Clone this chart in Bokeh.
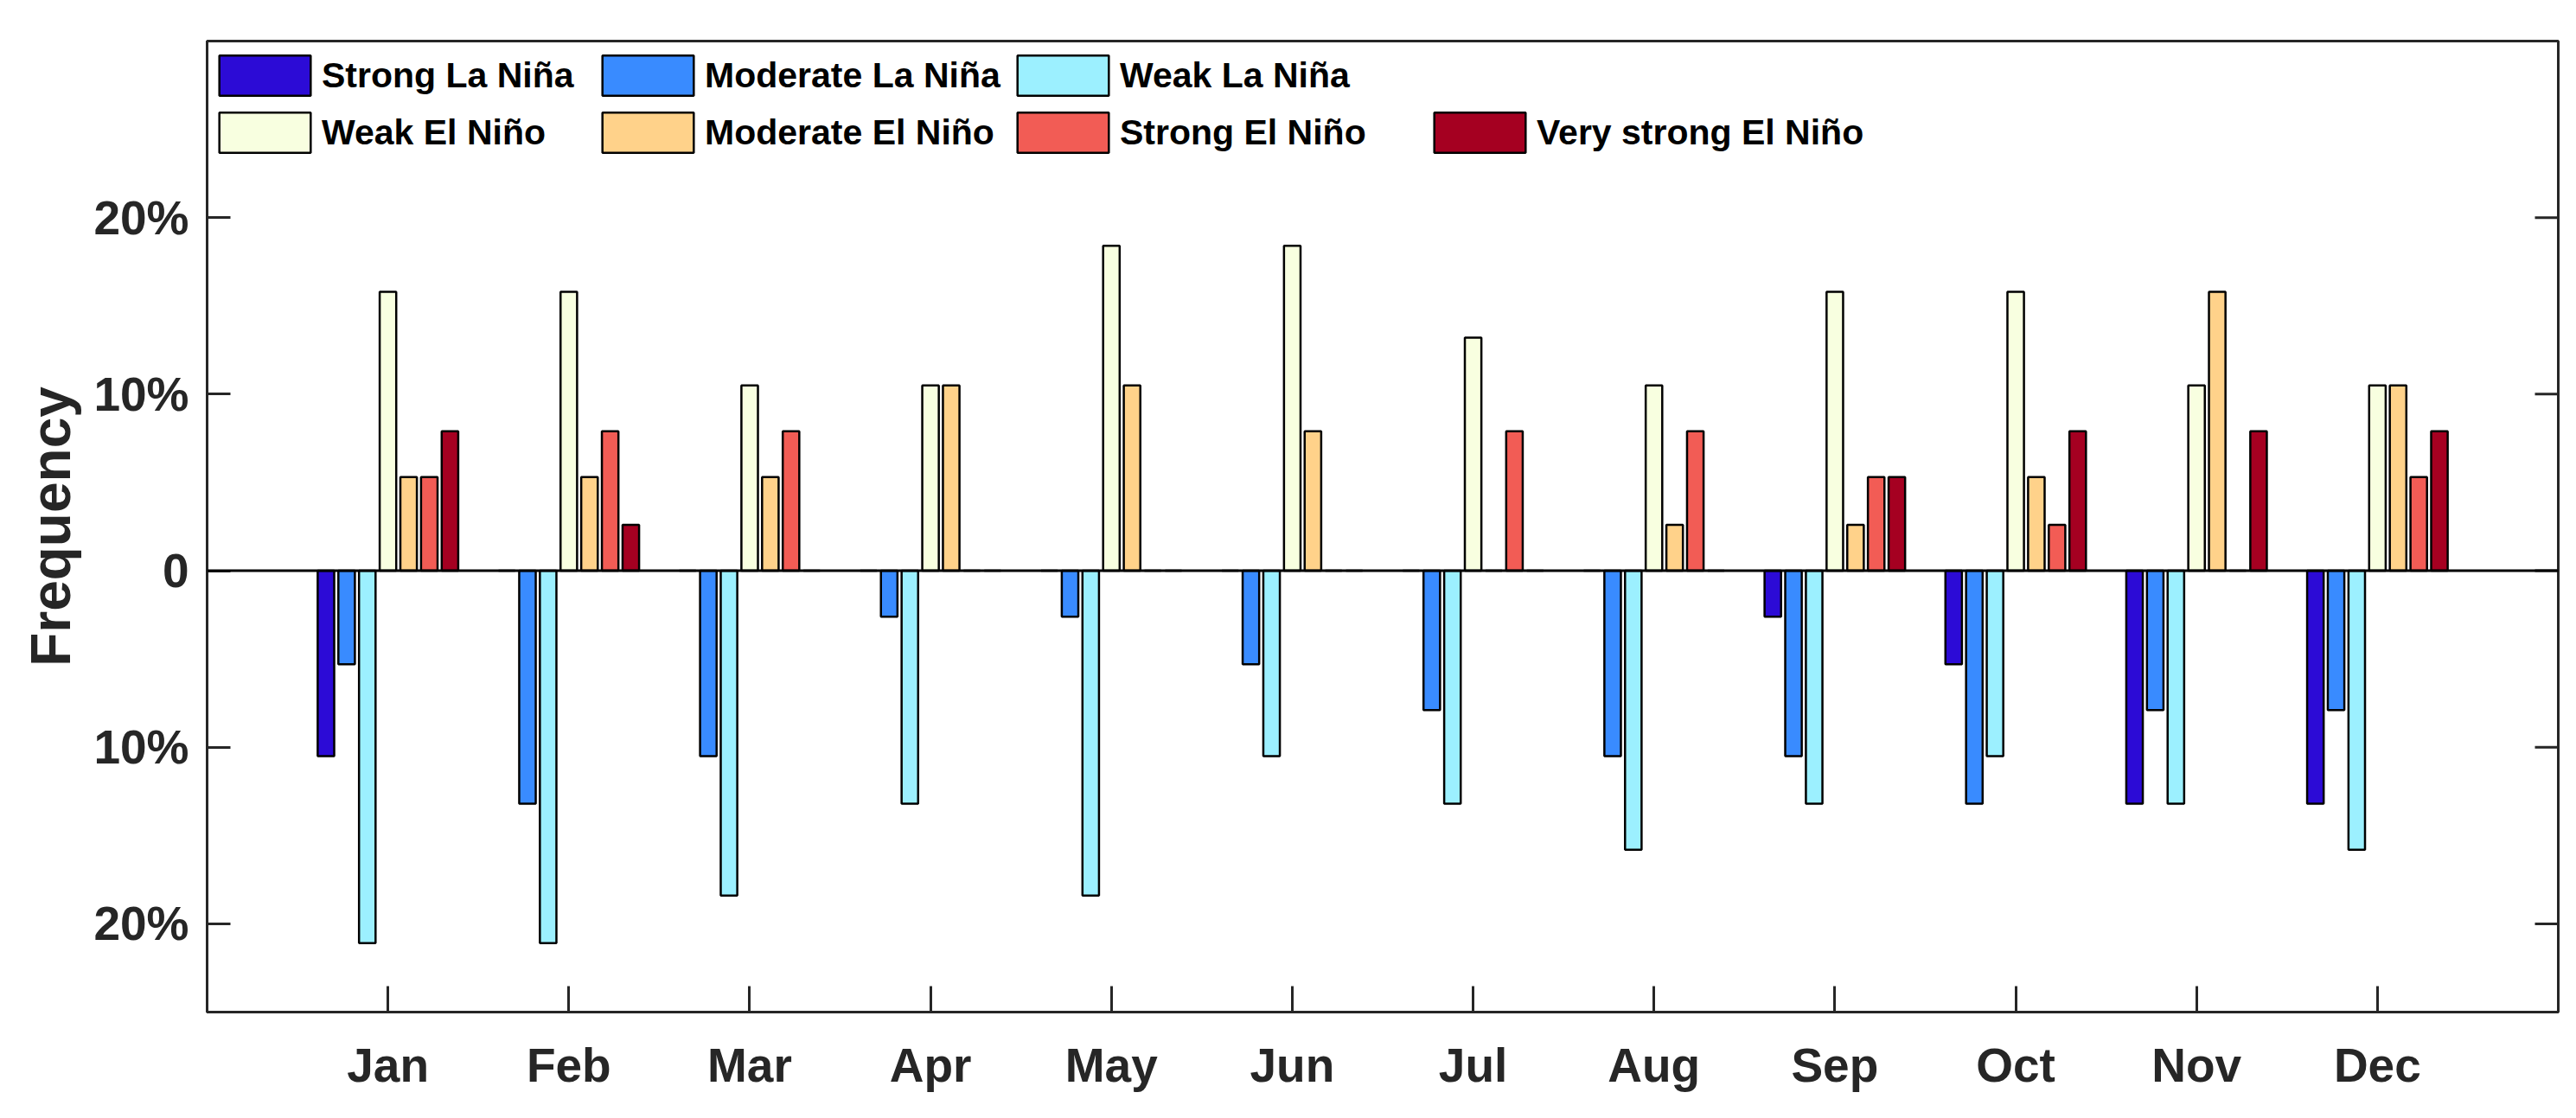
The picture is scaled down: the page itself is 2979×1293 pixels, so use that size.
from math import pi

from bokeh.plotting import figure
from bokeh.models import (ColumnDataSource, FixedTicker, Span,
                          Legend, LegendItem, Range1d)
from bokeh.embed import file_html
from bokeh.resources import INLINE

# Monthly frequency of ENSO event categories (La Niña drawn below zero)
months = ["Jan", "Feb", "Mar", "Apr", "May", "Jun",
          "Jul", "Aug", "Sep", "Oct", "Nov", "Dec"]

categories = ["Strong La Niña", "Moderate La Niña", "Weak La Niña",
              "Weak El Niño", "Moderate El Niño", "Strong El Niño",
              "Very strong El Niño"]

strong_la_nina = [-10.5, 0, 0, 0, 0, 0, 0, 0, -2.6, -5.3, -13.2, -13.2]
moderate_la_nina = [-5.3, -13.2, -10.5, -2.6, -2.6, -5.3, -7.9, -10.5, -10.5, -13.2, -7.9, -7.9]
weak_la_nina = [-21.1, -21.1, -18.4, -13.2, -18.4, -10.5, -13.2, -15.8, -13.2, -10.5, -13.2, -15.8]
weak_el_nino = [15.8, 15.8, 10.5, 10.5, 18.4, 18.4, 13.2, 10.5, 15.8, 15.8, 10.5, 10.5]
moderate_el_nino = [5.3, 5.3, 5.3, 10.5, 10.5, 7.9, 0, 2.6, 2.6, 5.3, 15.8, 10.5]
strong_el_nino = [5.3, 7.9, 7.9, 0, 0, 0, 7.9, 7.9, 5.3, 2.6, 0, 5.3]
very_strong_el_nino = [7.9, 2.6, 0, 0, 0, 0, 0, 0, 5.3, 7.9, 7.9, 7.9]

series = [strong_la_nina, moderate_la_nina, weak_la_nina, weak_el_nino,
          moderate_el_nino, strong_el_nino, very_strong_el_nino]

colors = ["#2c0bd6", "#398bff", "#9cf0ff", "#f8ffe0",
          "#ffd28a", "#f25c55", "#a50021"]

y_ticks = [-20, -10, 0, 10, 20]
y_tick_labels = ["20%", "10%", "0", "10%", "20%"]

AXIS_COLOR = "#262626"
FONT = "Liberation Sans"

X_MIN, X_MAX = 0, 13

p = figure(width=2979, height=1293, output_backend="svg", toolbar_location=None,
           x_range=Range1d(X_MIN, X_MAX), y_range=Range1d(-25, 30),
           min_border_left=239, min_border_right=21,
           min_border_top=47, min_border_bottom=123)
p.background_fill_color = "white"
p.border_fill_color = "white"
p.xgrid.visible = False
p.ygrid.visible = False
p.outline_line_color = AXIS_COLOR
p.outline_line_width = 3
p.outline_line_alpha = 1

# grouped bars: 7 series per month, MATLAB-style group geometry
n = len(series)
group_width = min(0.8, n / (n + 1.5))
pitch = group_width / n
bar_width = pitch * 0.8

renderers = []
for k, (name, vals, col) in enumerate(zip(categories, series, colors)):
    xs = [i + 1 + (k - (n - 1) / 2) * pitch for i in range(len(months))]
    src = ColumnDataSource(dict(x=xs, top=vals, month=months))
    r = p.vbar(x="x", top="top", bottom=0, width=bar_width, source=src,
               fill_color=col, line_color="black", line_width=2.5)
    renderers.append(r)

# zero baseline across the axes
p.add_layout(Span(location=0, dimension="width", line_color="black", line_width=3))

# x axis
xa = p.xaxis[0]
xa.ticker = FixedTicker(ticks=list(range(1, 13)))
xa.major_label_overrides = {i + 1: m for i, m in enumerate(months)}
xa.major_tick_in = 30
xa.major_tick_out = 0
xa.minor_tick_line_color = None
xa.major_tick_line_width = 3
xa.major_tick_line_color = AXIS_COLOR
xa.axis_line_color = AXIS_COLOR
xa.axis_line_width = 3
xa.major_label_text_font = FONT
xa.major_label_text_font_style = "bold"
xa.major_label_text_font_size = "55px"
xa.major_label_text_color = AXIS_COLOR
xa.major_label_standoff = 30

# y axis
ya = p.yaxis[0]
ya.ticker = FixedTicker(ticks=y_ticks)
ya.major_label_overrides = dict(zip(y_ticks, y_tick_labels))
ya.major_tick_in = 27
ya.major_tick_out = 0
ya.minor_tick_line_color = None
ya.major_tick_line_width = 3
ya.major_tick_line_color = AXIS_COLOR
ya.axis_line_color = AXIS_COLOR
ya.axis_line_width = 3
ya.major_label_text_font = FONT
ya.major_label_text_font_style = "bold"
ya.major_label_text_font_size = "55px"
ya.major_label_text_color = AXIS_COLOR
ya.major_label_standoff = 21
ya.axis_label = "Frequency"
ya.axis_label_text_font = FONT
ya.axis_label_text_font_style = "bold"
ya.axis_label_text_font_size = "64px"
ya.axis_label_text_color = AXIS_COLOR
ya.axis_label_standoff = 10

# mirrored y ticks on the right edge (inward, 27 px long)
p.ray(x=[X_MAX] * len(y_ticks), y=y_ticks, length=27, length_units="screen",
      angle=pi, line_color=AXIS_COLOR, line_width=3)

# legend: two rows, four columns (last column holds only one entry)
columns = [[0, 3], [1, 4], [2, 5], [6]]
col_x = [1, 444, 924, 1406]
for idx, x0 in zip(columns, col_x):
    items = [LegendItem(label=categories[i], renderers=[renderers[i]]) for i in idx]
    lg = Legend(items=items, location=(x0, 988), orientation="vertical",
                padding=0, margin=0, spacing=8,
                glyph_width=132, glyph_height=58, label_standoff=-8,
                label_text_font=FONT, label_text_font_style="bold",
                label_text_font_size="41px", label_text_color="black",
                border_line_alpha=0, background_fill_alpha=0)
    p.add_layout(lg, "center")

open("out.html", "w").write(file_html(p, INLINE))
